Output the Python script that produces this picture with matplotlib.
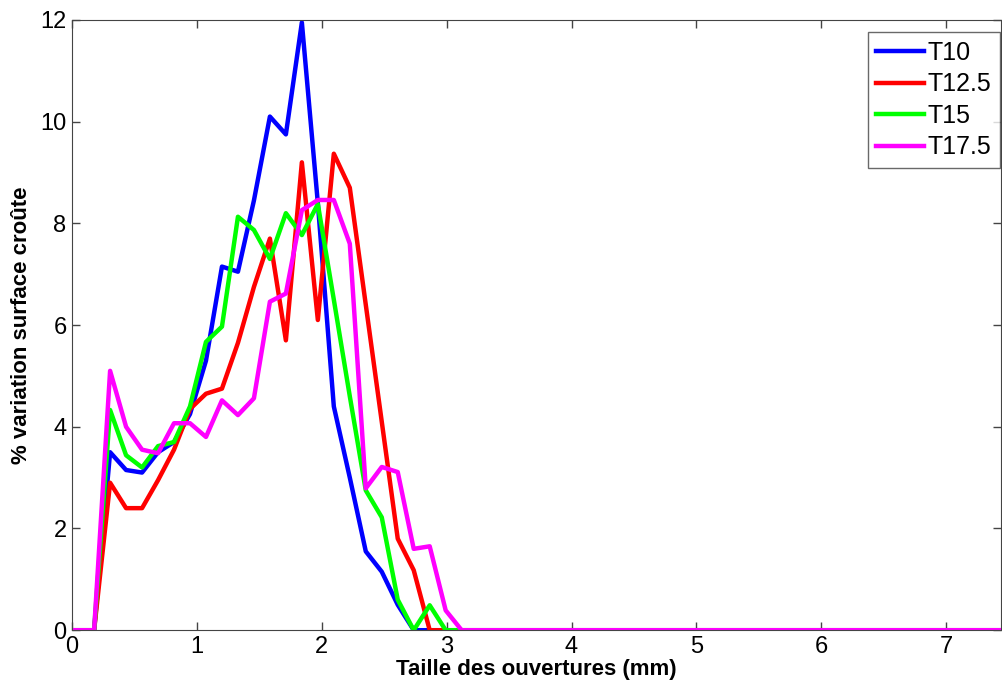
import matplotlib.pyplot as plt

plt.rcParams['font.family'] = ['Liberation Sans', 'DejaVu Sans']

x = [0, 0.176, 0.304, 0.432, 0.56, 0.688, 0.816, 0.944, 1.072, 1.2, 1.328, 1.456,
     1.584, 1.712, 1.84, 1.968, 2.096, 2.224, 2.352, 2.48, 2.608, 2.736, 2.864,
     2.992, 3.12, 7.5]

t10 = [0, 0, 3.5, 3.15, 3.1, 3.5, 3.7, 4.25, 5.3, 7.15, 7.05, 8.45,
       10.1, 9.75, 11.95, 8.4, 4.4, 3.0, 1.55, 1.15, 0.5, 0, 0,
       0, 0, 0]
t125 = [0, 0, 2.9, 2.4, 2.4, 2.95, 3.55, 4.35, 4.65, 4.75, 5.65, 6.75,
        7.7, 5.7, 9.2, 6.1, 9.37, 8.7, 6.4, 4.1, 1.8, 1.18, 0,
        0, 0, 0]
t15 = [0, 0, 4.33, 3.44, 3.2, 3.62, 3.7, 4.4, 5.67, 5.97, 8.13, 7.87,
       7.3, 8.2, 7.77, 8.38, 6.5, 4.6, 2.75, 2.22, 0.6, 0, 0.49,
       0, 0, 0]
t175 = [0, 0, 5.1, 4.0, 3.55, 3.48, 4.07, 4.07, 3.8, 4.52, 4.23, 4.56,
        6.46, 6.62, 8.26, 8.46, 8.46, 7.6, 2.79, 3.21, 3.11, 1.6, 1.65,
        0.39, 0, 0]

series = [('T10', t10, '#0000ff'), ('T12.5', t125, '#ff0000'),
          ('T15', t15, '#00ff00'), ('T17.5', t175, '#ff00ff')]

fig = plt.figure(figsize=(10.02, 6.88), dpi=100)
ax = fig.add_axes([0.072, 0.084, 0.927, 0.887])

for name, vals, col in series:
    ax.plot(x, vals, color=col, lw=3.2, label=name)

ax.set_xlim(0, 7.44)
ax.set_ylim(0, 12)
ax.set_xticks(range(0, 8))
ax.set_yticks(range(0, 13, 2))
ax.tick_params(direction='in', top=True, right=True, length=6,
               labelsize=17, width=1, color='#444444', pad=4)
for s in ax.spines.values():
    s.set_color('#444444')

ax.set_xlabel('Taille des ouvertures (mm)', fontsize=16, fontweight='bold', labelpad=1)
ax.set_ylabel('% variation surface croûte', fontsize=16, fontweight='bold', labelpad=6)

leg = ax.legend(loc='upper right', bbox_to_anchor=(0.999, 0.98), borderaxespad=0,
                fontsize=18, frameon=True, fancybox=False,
                handlelength=1.9, handletextpad=0.15, borderpad=0.35,
                labelspacing=0.3)
leg.get_frame().set_edgecolor('#444444')
leg.get_frame().set_linewidth(1)

fig.savefig('out.png', dpi=100)
